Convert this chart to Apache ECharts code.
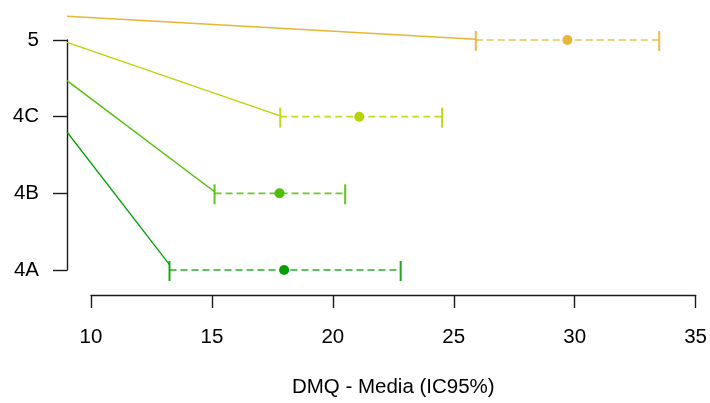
<!DOCTYPE html>
<html>
<head>
<meta charset="utf-8">
<script src="https://cdn.jsdelivr.net/npm/echarts@6/dist/echarts.min.js"></script>
<style>
  html, body { margin: 0; padding: 0; background: #fff; }
  #chart { width: 710px; height: 403px; }
</style>
</head>
<body>
<div id="chart"></div>
<script>
// Groups, bottom to top on the vertical axis
const groups = ['4A', '4B', '4C', '5'];
// Mean DMQ score and 95% confidence interval per group
const means = [17.96, 17.77, 21.06, 29.65];
const ciLow = [13.23, 15.09, 17.80, 25.87];
const ciHigh = [22.77, 20.48, 24.48, 33.44];
// Guide lines running from the left edge down to each interval
const guideFromX = [9.0, 9.0, 9.0, 9.0];
const guideFromY = [2.80, 3.47, 3.97, 4.31];
const guideToY = [1.07, 2.02, 3.01, 4.01];
// X axis ticks; the plotting region starts one unit before the first tick
const xTicks = [10, 15, 20, 25, 30, 35];
const plotXMin = 9;

const colors = ['#02A002', '#4CBF06', '#B4D606', '#E8B634'];
const font = '"Liberation Sans", Arial, Helvetica, sans-serif';
const fontSize = 20.5;

const series = [];
groups.forEach((g, i) => {
  const pos = i + 1;
  const c = colors[i];
  series.push({
    name: g + ' guide',
    type: 'line',
    clip: false,
    symbol: 'none',
    silent: true,
    lineStyle: { color: c, width: 1.3 },
    data: [[guideFromX[i], guideFromY[i]], [ciLow[i], guideToY[i]]]
  });
  series.push({
    name: g + ' IC95%',
    type: 'line',
    clip: false,
    symbol: 'none',
    silent: true,
    lineStyle: { color: c, width: 1.7, type: [7, 4], opacity: 0.85 },
    data: [[ciLow[i], pos], [ciHigh[i], pos]]
  });
  series.push({
    name: g + ' caps',
    type: 'scatter',
    clip: false,
    symbol: 'rect',
    symbolSize: [2, 20],
    symbolOffset: [0, 1],
    itemStyle: { color: c, opacity: 0.9 },
    data: [[ciLow[i], pos], [ciHigh[i], pos]]
  });
  series.push({
    name: g + ' media',
    type: 'scatter',
    clip: false,
    symbol: 'circle',
    symbolSize: 10,
    itemStyle: { color: c, opacity: 1 },
    z: 5,
    data: [[means[i], pos]]
  });
});

const axisColor = '#1a1a1a';
const chart = echarts.init(document.getElementById('chart'), null, { renderer: 'canvas' });
chart.setOption({
  animation: false,
  backgroundColor: '#ffffff',
  grid: [
    // plotting region (data + vertical axis)
    { left: 67, right: 13, top: 40, bottom: 133, containLabel: false },
    // horizontal axis, drawn from the first tick to the last
    { left: 91, right: 13, top: 40, bottom: 133, containLabel: false }
  ],
  xAxis: [
    {
      gridIndex: 0,
      type: 'value',
      min: plotXMin,
      max: xTicks[xTicks.length - 1],
      show: false
    },
    {
      gridIndex: 1,
      type: 'value',
      min: xTicks[0],
      max: xTicks[xTicks.length - 1],
      interval: 5,
      offset: 25,
      name: 'DMQ - Media (IC95%)',
      nameLocation: 'middle',
      nameGap: 82,
      nameTextStyle: { color: '#000', fontSize: fontSize, fontFamily: font },
      axisLine: { show: true, lineStyle: { color: axisColor, width: 1.4 } },
      axisTick: { show: true, length: 13, lineStyle: { color: axisColor, width: 1.4 } },
      axisLabel: { color: '#000', fontSize: fontSize, fontFamily: font, margin: 32 },
      splitLine: { show: false }
    }
  ],
  yAxis: [
    {
      gridIndex: 0,
      type: 'value',
      min: 1,
      max: 4,
      interval: 1,
      axisLine: { show: true, lineStyle: { color: axisColor, width: 1.4 } },
      axisTick: { show: true, length: 14, lineStyle: { color: axisColor, width: 1.4 } },
      axisLabel: {
        color: '#000', fontSize: fontSize, fontFamily: font, margin: 28,
        padding: [5, 0, 0, 0],
        formatter: v => groups[Math.round(v) - 1] || ''
      },
      splitLine: { show: false }
    },
    {
      gridIndex: 1,
      type: 'value',
      min: 1,
      max: 4,
      show: false
    }
  ],
  series: series
});
</script>
</body>
</html>
